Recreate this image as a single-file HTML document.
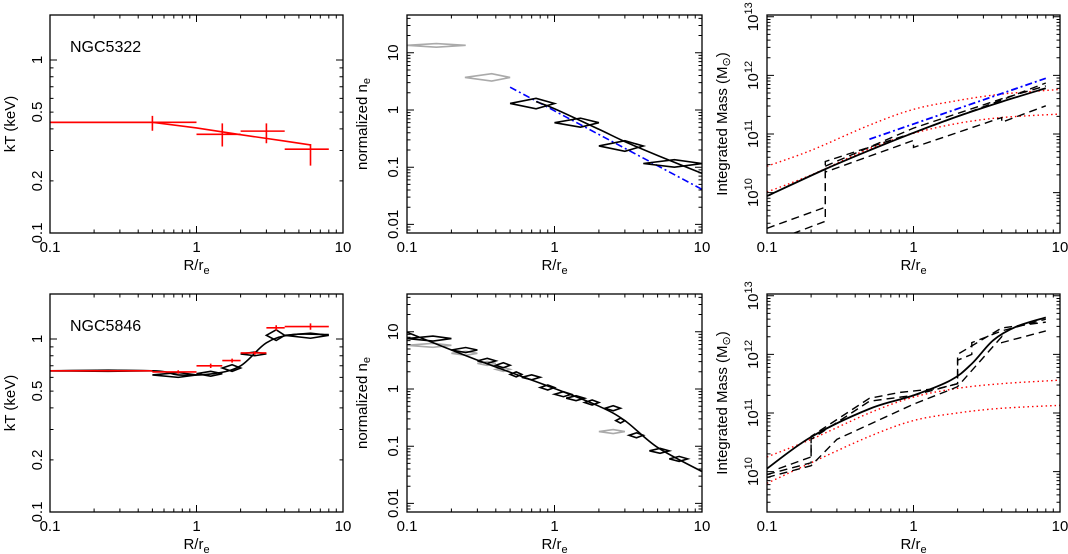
<!DOCTYPE html>
<html><head><meta charset="utf-8">
<style>
html,body{margin:0;padding:0;background:#fff;}
svg{display:block;font-family:"Liberation Sans",sans-serif;}
</style></head><body>
<svg id="fig" width="1068" height="554" viewBox="0 0 1068 554" xmlns="http://www.w3.org/2000/svg"></svg>
<script>
// ---------- DATA ----------
// NGC5322 temperature: [x, xlo, xhi, y, ylo, yhi]
const t1Points = [[0.5,0.25,1,0.436,0.39,0.475],[1.5,1,2,0.372,0.316,0.43],[3,2,4,0.388,0.33,0.43],[6,4,8,0.305,0.245,0.327]];
const t1Model = [[0.1,0.436],[0.5,0.436],[1,0.405],[2,0.37],[4,0.34],[6,0.323]];
// NGC5322 density
const n1Gray = [[0.158,0.1,0.25,13.5,12.5,14.5],[0.375,0.247,0.5,3.7,3.2,4.3]];
const n1Black = [[0.75,0.5,1,1.3,1.05,1.6],[1.5,1,2,0.6,0.5,0.72],[3,2,4,0.235,0.19,0.29],[6.5,4,10,0.116,0.1,0.135]];
const n1Model = [[0.75,1.4],[1,1.05],[2,0.46],[3,0.28],[5,0.16],[10,0.078]];
const n1Beta = [[0.5,2.5],[10,0.041]];
// NGC5322 mass (log10 M)
const m1Solid = [[0.1,9.94],[0.25,10.4],[0.5,10.72],[1,11.02],[2,11.3],[4,11.55],[8,11.78]];
const m1RedHi = [[0.1,10.45],[0.2,10.72],[0.5,11.15],[1,11.42],[2,11.57],[4,11.68],[10,11.76]];
const m1RedLo = [[0.1,10.01],[0.2,10.3],[0.5,10.75],[1,11.01],[2,11.18],[4,11.28],[10,11.34]];
const m1Blue = [[0.5,10.91],[8,11.95]];
const m1DashA = [[0.1,9.39],[0.25,9.75],[0.25,10.53],[1,11.02],[4,11.58],[8,11.87]];
const m1DashB = [[0.15,9.3],[0.25,9.51],[0.25,10.35],[1,10.89],[1,10.77],[4,11.28],[4,11.2],[8,11.48]];
const m1DashC = [[0.25,10.45],[1,11.1],[4,11.6],[8,11.82]];
// NGC5846 temperature
const t2Red = [[0.25,0.1,0.5,0.655,0.65,0.66],[0.75,0.5,1,0.645,0.63,0.66],[1.25,1,1.5,0.70,0.68,0.72],[1.75,1.5,2,0.75,0.73,0.77],[2.5,2,3,0.83,0.81,0.85],[3.5,3,4,1.16,1.12,1.2],[6,4,8,1.18,1.13,1.23]];
const t2Diam = [[0.25,0.1,0.5,0.655,0.65,0.66],[0.75,0.5,1,0.62,0.6,0.64],[1.25,1,1.5,0.63,0.61,0.65],[1.75,1.5,2,0.68,0.65,0.71],[2.5,2,3,0.82,0.8,0.84],[3.5,3,4,1.05,0.98,1.13],[6,4,8,1.05,1.01,1.08]];
const t2Model = [[0.1,0.655],[0.5,0.655],[0.75,0.62],[1.3,0.63],[2,0.7],[3,0.95],[4.5,1.06],[8,1.06]];
// NGC5846 density
const n2Black = [[0.15,0.1,0.2,7.6],[0.25,0.2,0.3,4.8],[0.35,0.3,0.4,3.1],[0.45,0.4,0.5,2.6],[0.55,0.5,0.6,1.8],[0.7,0.6,0.8,1.6],[0.9,0.8,1.0,1.06],[1.15,1.0,1.3,0.81],[1.4,1.2,1.6,0.69],[1.8,1.6,2,0.58],[2.5,2.2,2.8,0.46],[2.8,2.6,3,0.28],[3.6,3.2,4,0.155],[5.2,4.4,6,0.083],[7,6,8,0.06]];
const n2Gray = [[0.15,0.1,0.2,5.8],[0.25,0.2,0.3,4.2],[0.35,0.3,0.4,2.8],[0.45,0.4,0.5,2.2],[2.5,2,3,0.18]];
const n2Model = [[0.1,9.8],[0.3,3.2],[1,1.02],[2,0.5],[3,0.28],[5,0.095],[10,0.036]];
// NGC5846 mass
const m2Solid = [[0.1,10.05],[0.2,10.59],[0.5,11.07],[1,11.3],[1.8,11.56],[2.5,11.84],[3.5,12.24],[5,12.47],[8,12.63]];
const m2RedHi = [[0.1,10.25],[0.2,10.55],[0.5,11.0],[1,11.27],[2,11.42],[4,11.5],[10,11.56]];
const m2RedLo = [[0.1,9.8],[0.2,10.15],[0.5,10.6],[1,10.87],[2,11.0],[4,11.08],[10,11.13]];
const m2DashA = [[0.1,9.95],[0.2,10.15],[0.2,10.55],[0.5,11.2],[1,11.3],[2,11.5],[2,12.0],[4,12.45],[8,12.55]];
const m2DashB = [[0.12,10.05],[0.2,10.25],[0.2,10.6],[0.5,11.25],[0.8,11.35],[1.5,11.42],[2,11.5],[2,11.9],[2.5,12.0],[2.5,12.2],[4,12.4],[8,12.6]];
const m2DashC = [[0.1,9.9],[0.2,10.1],[0.3,10.55],[1,11.15],[1.8,11.4],[2,11.45],[4,12.3],[4,12.2],[8,12.4]];

const xTicks = ["0.1","1","10"];
const kTTicks = [[0.1,"0.1"],[0.2,"0.2"],[0.5,"0.5"],[1,"1"]];
const neTicks = [[0.01,"0.01"],[0.1,"0.1"],[1,"1"],[10,"10"]];
const mTicks = [10,11,12,13];

// ---------- DRAW ----------
const svg = document.getElementById('fig');
const NS = 'http://www.w3.org/2000/svg';
function mk(tag, attrs, parent){const e=document.createElementNS(NS,tag);for(const k in attrs)e.setAttribute(k,attrs[k]);(parent||svg).appendChild(e);return e;}

function panel(name, x0,x1,y0,y1, ylo,yhi, ylog){
  const g = mk('g',{});
  
  
  const P = {g,
    sx:v=>x0+(Math.log10(v)+1)/2*(x1-x0),
    sy:v=>{const l=ylog?v:Math.log10(v);return y1-(l-ylo)/(yhi-ylo)*(y1-y0);},
    x0,x1,y0,y1};
  const clipId='c'+name;
  const cp=mk('clipPath',{id:clipId},g); mk('rect',{x:x0,y:y0,width:x1-x0,height:y1-y0},cp);
  P.plot = mk('g',{'clip-path':'url(#'+clipId+')'},g);
  const fr=mk('rect',{x:x0,y:y0,width:x1-x0,height:y1-y0,fill:'none',stroke:'#000','stroke-width':1.3},g);
  
  
  let d='';
  for(let e=-1;e<1;e++)for(let m=1;m<10;m++){const v=m*Math.pow(10,e);const x=P.sx(v);const L=m==1?7:3.5;d+=`M${x},${y1}v${-L}M${x},${y0}v${L}`;}
  for(let e=Math.floor(ylo)-1;e<=Math.ceil(yhi);e++)for(let m=1;m<10;m++){const l=e+Math.log10(m);if(l<ylo-1e-6||l>yhi+1e-6)continue;const y=y1-(l-ylo)/(yhi-ylo)*(y1-y0);const L=m==1?7:3.5;d+=`M${x0},${y}h${L}M${x1},${y}h${-L}`;}
  mk('path',{d,stroke:'#000','stroke-width':1,fill:'none'},g);
  xTicks.forEach((t,i)=>{const tx=mk('text',{x:x0+i*(x1-x0)/2,y:y1+19,'text-anchor':'middle','font-size':15},g);tx.textContent=t;
    
    });
  const xl=mk('text',{x:(x0+x1)/2,y:y1+37,'text-anchor':'middle','font-size':15},g);
  
  
  xl.innerHTML='R/r<tspan font-size="11" dy="4">e</tspan>';
  return P;
}
function ytl(P,yv,txt,xpos){const y=P.sy(yv);const t=mk('text',{transform:`translate(${xpos},${y}) rotate(-90)`,'text-anchor':'middle','font-size':15},P.g);t.innerHTML=txt;
  
  }
function ytitle(P,txt,xpos){const t=mk('text',{transform:`translate(${xpos},${(P.y0+P.y1)/2}) rotate(-90)`,'text-anchor':'middle','font-size':15},P.g);t.innerHTML=txt;
  
  }
function pathFor(P,arr,smooth){
  const pts=arr.map(p=>[P.sx(p[0]),P.sy(p[1])]);
  if(!smooth||pts.length<3) return pts.map((p,i)=>(i?'L':'M')+p[0]+','+p[1]).join('');
  let d='M'+pts[0][0]+','+pts[0][1];
  for(let i=0;i<pts.length-1;i++){
    const p0=pts[Math.max(0,i-1)],p1=pts[i],p2=pts[i+1],p3=pts[Math.min(pts.length-1,i+2)];
    const c1=[p1[0]+(p2[0]-p0[0])/6,p1[1]+(p2[1]-p0[1])/6];
    const c2=[p2[0]-(p3[0]-p1[0])/6,p2[1]-(p3[1]-p1[1])/6];
    d+=`C${c1[0]},${c1[1]} ${c2[0]},${c2[1]} ${p2[0]},${p2[1]}`;
  }
  return d;
}
function line(P,arr,col,w,dash,name,smooth){const e=mk('path',{d:pathFor(P,arr,smooth),fill:'none',stroke:col,'stroke-width':w},P.plot);if(dash)e.setAttribute('stroke-dasharray',dash);
  
  }
function crosses(P,arr,col,name){arr.forEach(p=>{const e=mk('path',{d:`M${P.sx(p[1])},${P.sy(p[3])}H${P.sx(p[2])}M${P.sx(p[0])},${P.sy(p[4])}V${P.sy(p[5])}`,stroke:col,'stroke-width':1.6,fill:'none'},P.plot);
  
  });}
function diamonds(P,arr,col,name,hh){arr.forEach(p=>{let yt,yb;if(p.length>4){yt=P.sy(p[5]);yb=P.sy(p[4]);}else{yt=P.sy(p[3])-hh;yb=P.sy(p[3])+hh;}
  const yc=P.sy(p[3]);
  const e=mk('path',{d:`M${P.sx(p[1])},${yc}L${P.sx(p[0])},${yt}L${P.sx(p[2])},${yc}L${P.sx(p[0])},${yb}Z`,stroke:col,'stroke-width':1.6,fill:'none'},P.plot);
  
  });}
function label(P,txt){const t=mk('text',{x:P.x0+20,y:P.y0+37,'font-size':16},P.g);t.textContent=txt;
  
  }

const rows=[[15,233],[294,512]];
const KT=[-1,0.26], NE=[-2.15,1.66], MS=[9.31,13.03];
const MSUN='Integrated Mass (M<tspan font-size="11" dy="3">⊙</tspan><tspan dy="-3">)</tspan>';
const NETXT='normalized n<tspan font-size="11" dy="3">e</tspan>';

// Row 1
let P=panel('kt-panel-ngc5322',50,343,rows[0][0],rows[0][1],KT[0],KT[1],false);
kTTicks.forEach(t=>ytl(P,t[0],t[1],42)); ytitle(P,'kT (keV)',15); label(P,'NGC5322');
line(P,t1Model,'#f00',1.6,null,'temperature-model');
crosses(P,t1Points,'#f00','temperature-point');
line(P,[[0.1,t1Points[0][3]],[0.25,t1Points[0][3]]],'#f00',1.6,null,'temperature-bar');

P=panel('density-panel-ngc5322',407,702,rows[0][0],rows[0][1],NE[0],NE[1],false);
neTicks.forEach(t=>ytl(P,t[0],t[1],398)); ytitle(P,NETXT,367);
diamonds(P,n1Gray,'#aaa','density-gray-diamond');
line(P,n1Beta,'#00f',1.6,'7,3,2,3','beta-model-line');
line(P,n1Model,'#000',1.6,null,'density-model',true);
diamonds(P,n1Black,'#000','density-diamond');

P=panel('mass-panel-ngc5322',767,1060,rows[0][0],rows[0][1],MS[0],MS[1],true);
mTicks.forEach(t=>ytl(P,t,'10<tspan font-size="11" dy="-6">'+t+'</tspan>',758)); ytitle(P,MSUN,727);
line(P,m1RedHi,'#f00',1.4,'1.5,3','stellar-mass-upper',true);
line(P,m1RedLo,'#f00',1.4,'1.5,3','stellar-mass-lower',true);
line(P,m1DashA,'#000',1.4,'8,5','mass-dashed-upper');
line(P,m1DashB,'#000',1.4,'8,5','mass-dashed-lower');
line(P,m1DashC,'#000',1.4,'8,5','mass-dashed-mid');
line(P,m1Blue,'#00f',1.8,'7,3,2,3','mass-beta-model');
line(P,m1Solid,'#000',1.8,null,'mass-total',true);

// Row 2
P=panel('kt-panel-ngc5846',50,343,rows[1][0],rows[1][1],KT[0],KT[1],false);
kTTicks.forEach(t=>ytl(P,t[0],t[1],42)); ytitle(P,'kT (keV)',15); label(P,'NGC5846');
line(P,t2Model,'#000',1.6,null,'temperature-model',true);
diamonds(P,t2Diam,'#000','temperature-diamond');
crosses(P,t2Red,'#f00','temperature-point');

P=panel('density-panel-ngc5846',407,702,rows[1][0],rows[1][1],NE[0],NE[1],false);
neTicks.forEach(t=>ytl(P,t[0],t[1],398)); ytitle(P,NETXT,367);
diamonds(P,n2Gray,'#aaa','density-gray-diamond',2);
line(P,n2Model,'#000',1.6,null,'density-model',true);
diamonds(P,n2Black,'#000','density-diamond',2.5);

P=panel('mass-panel-ngc5846',767,1060,rows[1][0],rows[1][1],MS[0],MS[1],true);
mTicks.forEach(t=>ytl(P,t,'10<tspan font-size="11" dy="-6">'+t+'</tspan>',758)); ytitle(P,MSUN,727);
line(P,m2RedHi,'#f00',1.4,'1.5,3','stellar-mass-upper',true);
line(P,m2RedLo,'#f00',1.4,'1.5,3','stellar-mass-lower',true);
line(P,m2DashA,'#000',1.4,'8,5','mass-dashed-a');
line(P,m2DashB,'#000',1.4,'8,5','mass-dashed-b');
line(P,m2DashC,'#000',1.4,'8,5','mass-dashed-c');
line(P,m2Solid,'#000',1.8,null,'mass-total',true);
</script>
</body></html>
